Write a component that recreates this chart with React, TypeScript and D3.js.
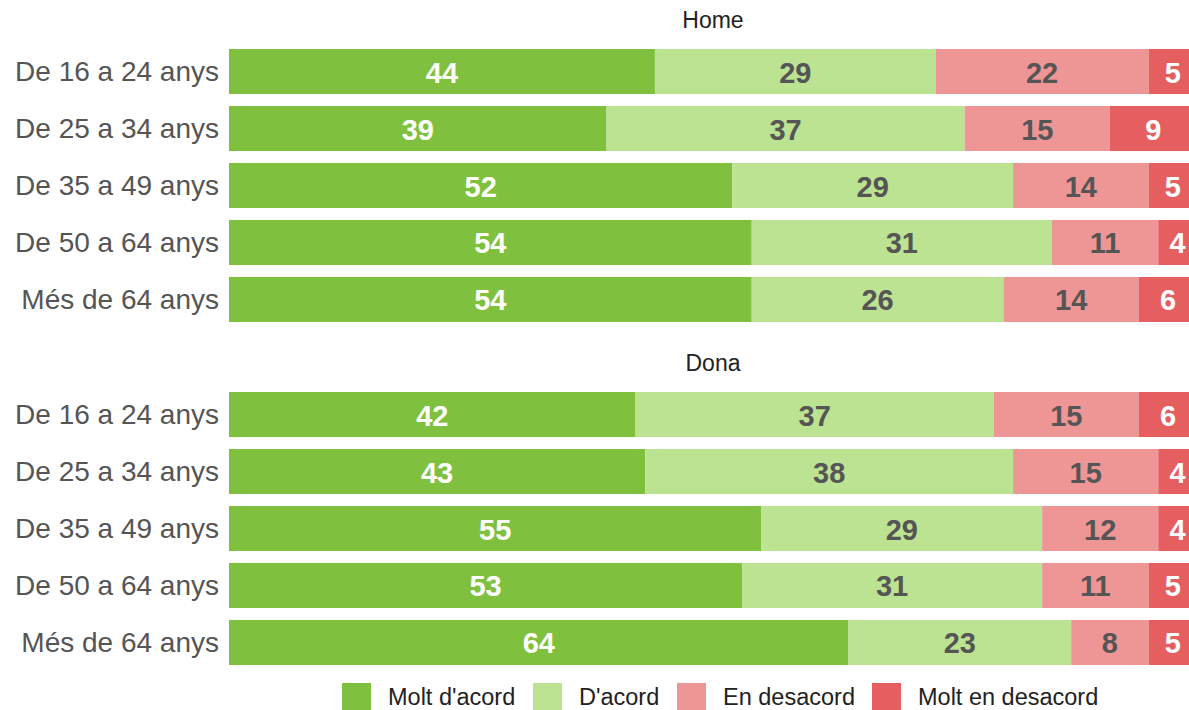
import React from "react";
import * as d3 from "d3";

const categories = ["De 16 a 24 anys", "De 25 a 34 anys", "De 35 a 49 anys", "De 50 a 64 anys", "Més de 64 anys"];
const series = ["Molt d'acord", "D'acord", "En desacord", "Molt en desacord"];
const colors = ["#7fc13e", "#bce392", "#ee9695", "#e55f60"];
const labelColors = ["#ffffff", "#555555", "#555555", "#ffffff"];
const panels = ["Home", "Dona"];

const homeValues = [
  [44, 29, 22, 5],
  [39, 37, 15, 9],
  [52, 29, 14, 5],
  [54, 31, 11, 4],
  [54, 26, 14, 6],
];
const donaValues = [
  [42, 37, 15, 6],
  [43, 38, 15, 4],
  [55, 29, 12, 4],
  [53, 31, 11, 5],
  [64, 23, 8, 5],
];
const panelValues = [homeValues, donaValues];

const W = 1189;
const H = 710;
const font = "'Liberation Sans', Arial, sans-serif";

export default function App() {
  const x = d3.scaleLinear().domain([0, 100]).range([229, 1197]);
  const panelTops = [49, 392];
  const panelH = 273;
  const stack = d3.stack<number[]>().keys(series.map((_, i) => String(i))).value((d, k) => d[+k]);

  const legendX = [342, 533, 677, 872];

  return (
    <svg width={W} height={H} style={{ position: "absolute", left: 0, top: 0, display: "block" }}>
      <rect width={W} height={H} fill="#fff" />
      {panels.map((p, pi) => {
        const y = d3.scaleBand().domain(categories).range([panelTops[pi], panelTops[pi] + panelH]).paddingInner(0.21).paddingOuter(0);
        const layers = stack(panelValues[pi] as any);
        return (
          <g key={p}>
            <text x={(x(0) + x(100)) / 2} y={panelTops[pi] - 21} textAnchor="middle" fontFamily={font} fontSize={23} fill="#222">{p}</text>
            {categories.map((c) => (
              <text key={c} x={219} y={(y(c) as number) + y.bandwidth() / 2} textAnchor="end" dominantBaseline="central" fontFamily={font} fontSize={28} fill="#555">{c}</text>
            ))}
            {layers.map((layer, si) => (
              <g key={si}>
                {layer.map((d, ci) => {
                  const cy = y(categories[ci]) as number;
                  return (
                    <g key={ci}>
                      <rect x={x(d[0])} y={cy} width={x(d[1]) - x(d[0])} height={y.bandwidth()} fill={colors[si]} />
                      <text x={(x(d[0]) + x(d[1])) / 2} y={cy + y.bandwidth() / 2 + 1} textAnchor="middle" dominantBaseline="central" fontFamily={font} fontSize={29} fontWeight="bold" fill={labelColors[si]}>{d[1] - d[0]}</text>
                    </g>
                  );
                })}
              </g>
            ))}
          </g>
        );
      })}
      {series.map((s, i) => (
        <g key={s}>
          <rect x={legendX[i]} y={683} width={29} height={29} fill={colors[i]} />
          <text x={legendX[i] + 46} y={697} dominantBaseline="central" fontFamily={font} fontSize={23.5} fill="#222">{s}</text>
        </g>
      ))}
    </svg>
  );
}
